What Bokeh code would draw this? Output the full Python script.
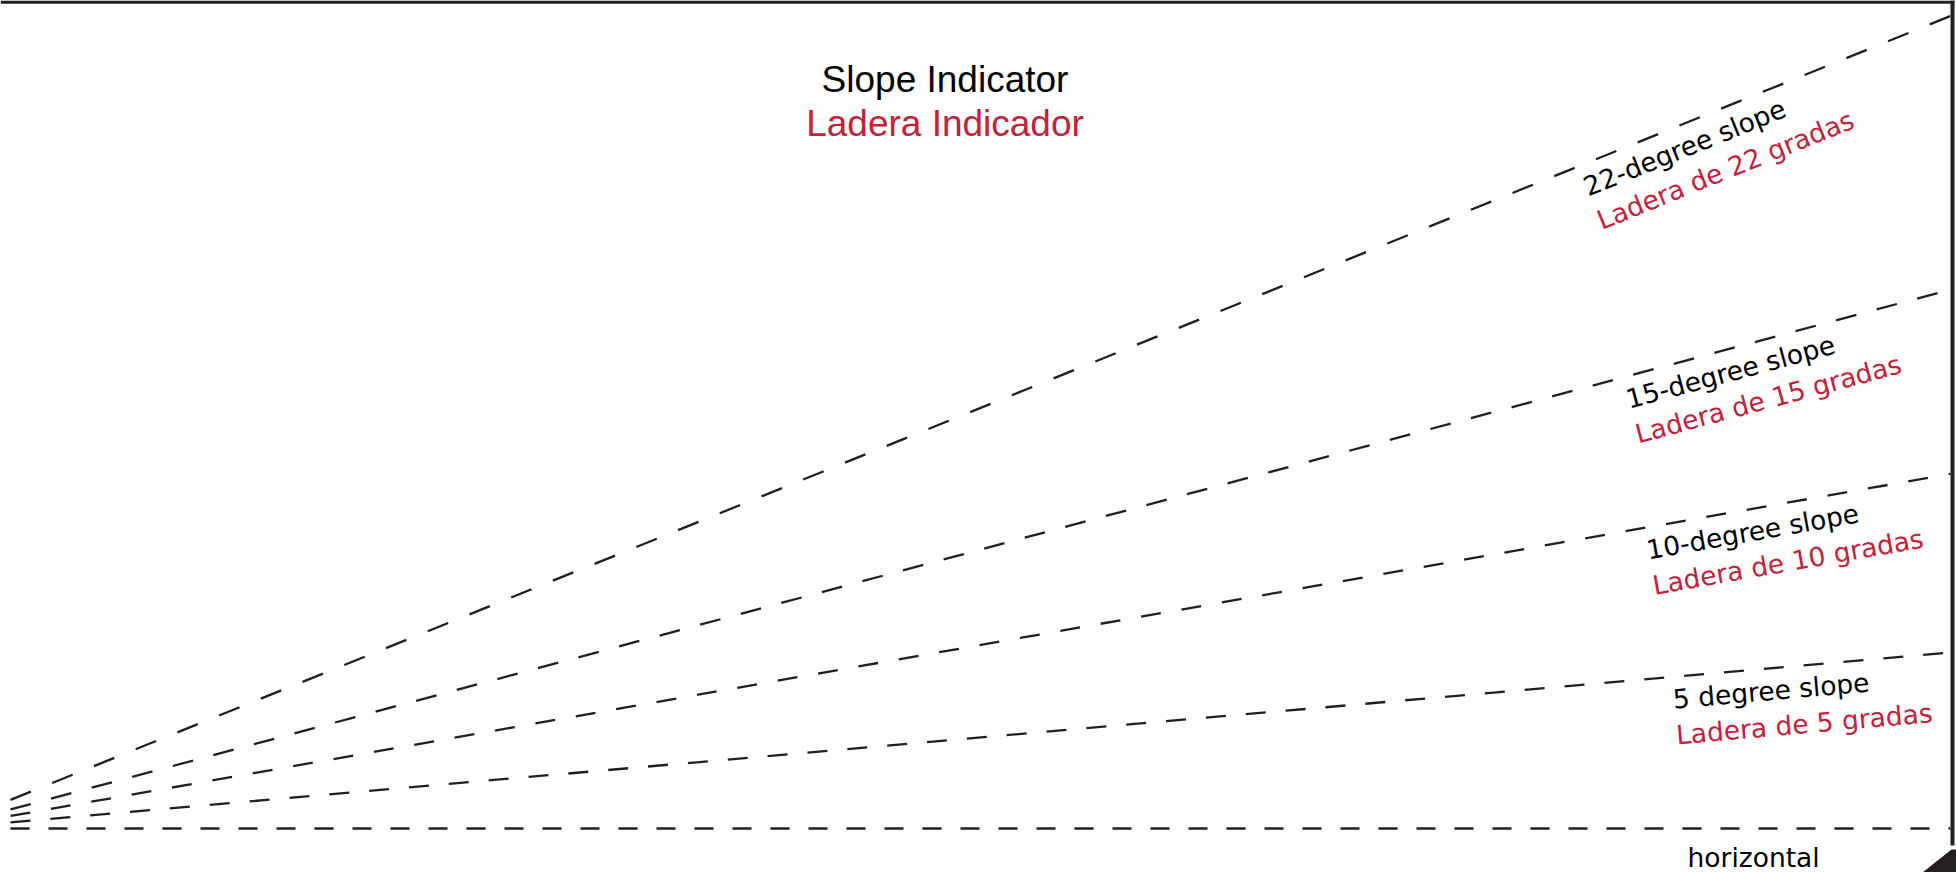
import math
from bokeh.plotting import figure
from bokeh.models import Range1d
from bokeh.embed import file_html
from bokeh.resources import INLINE
from bokeh.core.properties import value

# ---------------- data ----------------
angles = [5, 10, 15, 22]                      # slope angles (degrees)
labels_en = ["5 degree slope", "10-degree slope", "15-degree slope", "22-degree slope"]
labels_es = ["Ladera de 5 gradas", "Ladera de 10 gradas", "Ladera de 15 gradas", "Ladera de 22 gradas"]
horizontal_label = "horizontal"
title_en = "Slope Indicator"
title_es = "Ladera Indicador"
run_length = 100                              # horizontal run of every line

# ---------------- layout / style ----------------
W, H = 1956, 872
PX = 20.11                 # screen px per data unit (both axes)
OX, OY = -61, 828          # screen position of the common origin (outside, left)

def X2x(X):
    return (X - OX) / PX

def Y2y(Y):
    return (OY - Y) / PX

x0, x1 = X2x(0), X2x(W)
y0, y1 = Y2y(H), Y2y(0)
crop_x = X2x(10)           # lines become visible at the left margin

DARK = "#231f20"
RED = "#c4213a"
LW = 2.3
dashes = {0: "19 19", 5: "20 20", 10: "20 21", 15: "21 21", 22: "22 23"}
label_x = [86.1, 84.7, 83.6, 81.4]     # point along each line where its label sits
LABEL_FONT = value("DejaVu Sans")
LABEL_PX = 26.5
TITLE_PX = 37
LABEL_SHIFT = 0.33 * LABEL_PX           # renderer baseline correction (px)
TITLE_SHIFT = 0.33 * TITLE_PX

p = figure(width=W, height=H, x_range=Range1d(x0, x1), y_range=Range1d(y0, y1),
           output_backend="svg", toolbar_location=None, min_border=0,
           x_axis_location=None, y_axis_location=None)
p.grid.visible = False
p.outline_line_color = None
p.background_fill_color = "white"
p.border_fill_color = "white"

# horizontal reference line
p.line([crop_x, run_length], [0, 0], line_color=DARK, line_width=LW, line_dash=dashes[0])

for a, lx, en, es in zip(angles, label_x, labels_en, labels_es):
    t = math.tan(math.radians(a))
    p.line([crop_x, run_length], [crop_x * t, run_length * t], line_color=DARK,
           line_width=LW, line_dash=dashes[a])
    theta = math.atan(t)
    s, c = math.sin(theta), math.cos(theta)
    for d, txt, col in ((31 - LABEL_SHIFT, en, "black"), (31 + 36 - LABEL_SHIFT, es, RED)):
        p.text(x=[lx + d * s / PX], y=[lx * t - d * c / PX], text=[txt], angle=theta,
               text_font=LABEL_FONT, text_font_size=value(f"{LABEL_PX}px"), text_color=col,
               text_align="left", text_baseline="alphabetic")

p.text(x=[X2x(1687)], y=[Y2y(866 - LABEL_SHIFT)], text=[horizontal_label], text_font=LABEL_FONT,
       text_font_size=value(f"{LABEL_PX}px"), text_color="black",
       text_align="left", text_baseline="alphabetic")

# title (centred over the run)
p.text(x=[run_length / 2], y=[Y2y(91.7 - TITLE_SHIFT)], text=[title_en],
       text_font=value("Liberation Sans"), text_font_size=value(f"{TITLE_PX}px"),
       text_color="black", text_align="center", text_baseline="alphabetic")
p.text(x=[run_length / 2], y=[Y2y(135 - TITLE_SHIFT)], text=[title_es],
       text_font=value("Liberation Sans"), text_font_size=value(f"{TITLE_PX}px"),
       text_color=RED, text_align="center", text_baseline="alphabetic")

# frame decorations
xr = run_length
p.quad(left=[x0], right=[X2x(1954)], top=[y1], bottom=[Y2y(3.3)],
       fill_color=DARK, line_color=None)
p.quad(left=[xr], right=[X2x(1954)], top=[y1], bottom=[Y2y(845)],
       fill_color=DARK, line_color=None)
p.patch([X2x(1922), X2x(1951), x1, x1], [y0, Y2y(849), Y2y(849), y0],
        fill_color=DARK, line_color=None)

open("out.html", "w").write(file_html(p, INLINE))
